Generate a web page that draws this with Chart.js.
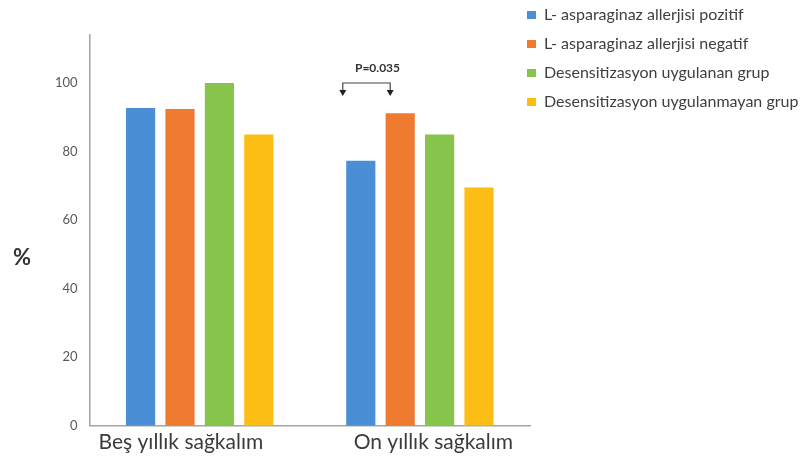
<!DOCTYPE html>
<html lang="tr">
<head>
<meta charset="utf-8">
<title>Sağkalım oranları</title>
<script src="https://cdn.jsdelivr.net/npm/chart.js@4/dist/chart.umd.min.js"></script>
<style>
  html, body { margin: 0; padding: 0; background: #ffffff; }
  #wrap { width: 805px; height: 460px; position: relative; }
</style>
</head>
<body>
<div id="wrap"><canvas id="chart" width="805" height="460"></canvas></div>
<script>
// Survival categories and the four patient groups (percent)
const categories = ['Beş yıllık sağkalım', 'On yıllık sağkalım'];
const seriesNames = [
  'L- asparaginaz allerjisi pozitif',
  'L- asparaginaz allerjisi negatif',
  'Desensitizasyon uygulanan grup',
  'Desensitizasyon uygulanmayan grup'
];
const allergyPositive = [92.7, 77.3];
const allergyNegative = [92.4, 91.2];
const desensitized = [100, 85];
const notDesensitized = [85, 69.5];
const yTicks = [0, 20, 40, 60, 80, 100];
const pValueLabel = 'P=0.035';

const seriesColors = ['#4a8fd5', '#ee7b30', '#86c44b', '#fcbd14'];
const seriesValues = [allergyPositive, allergyNegative, desensitized, notDesensitized];

const FONT = 'Lato, "Open Sans", "DejaVu Sans", sans-serif';

// Category captions are set a little off-centre: the first leans left, the second right
const captionLean = [{ lead: 0, trail: 7 }, { lead: 5, trail: 0 }];

// "%" caption beside the value axis, drawn upright
const percentCaption = {
  id: 'percentCaption',
  afterDraw(chart) {
    const { ctx, chartArea } = chart;
    ctx.save();
    ctx.font = 'bold 22px ' + FONT;
    ctx.fillStyle = '#333333';
    ctx.textAlign = 'center';
    ctx.textBaseline = 'middle';
    ctx.fillText('%', 22, chartArea.top + (chartArea.bottom - chartArea.top) * 0.57);
    ctx.restore();
  }
};

// Significance bracket between the ten-year positive and negative bars
const pBracket = {
  id: 'pBracket',
  afterDatasetsDraw(chart) {
    const { ctx } = chart;
    const y = chart.scales.y;
    const a = chart.getDatasetMeta(0).data[1];
    const b = chart.getDatasetMeta(1).data[1];
    if (!a || !b) return;
    const x1 = a.x - 18;
    const x2 = b.x - 10;
    const yl = y.getPixelForValue(100);
    const drop = 10;
    ctx.save();
    ctx.strokeStyle = '#444444';
    ctx.fillStyle = '#222222';
    ctx.lineWidth = 1.2;
    ctx.beginPath();
    ctx.moveTo(x1, yl + drop);
    ctx.lineTo(x1, yl);
    ctx.lineTo(x2, yl);
    ctx.lineTo(x2, yl + drop);
    ctx.stroke();
    [x1, x2].forEach(x => {
      ctx.beginPath();
      ctx.moveTo(x - 3.5, yl + drop - 3);
      ctx.lineTo(x + 3.5, yl + drop - 3);
      ctx.lineTo(x, yl + drop + 3);
      ctx.closePath();
      ctx.fill();
    });
    ctx.font = 'bold 12px ' + FONT;
    ctx.fillStyle = '#333333';
    ctx.textAlign = 'center';
    ctx.textBaseline = 'middle';
    ctx.fillText(pValueLabel, (x1 + x2) / 2 + 11, yl - 15);
    ctx.restore();
  }
};

// Legend sits slightly over the plot's right edge and near the top of the canvas
const legendPlacement = {
  id: 'legendPlacement',
  afterLayout(chart) {
    const lg = chart.legend;
    if (!lg) return;
    lg.left -= 16;
    lg.top -= 41;
  }
};

new Chart(document.getElementById('chart'), {
  type: 'bar',
  data: {
    labels: categories,
    datasets: seriesNames.map((name, i) => ({
      label: name,
      data: seriesValues[i],
      backgroundColor: seriesColors[i],
      borderWidth: 0,
      categoryPercentage: 0.716,
      barPercentage: 0.74
    }))
  },
  options: {
    responsive: false,
    animation: false,
    devicePixelRatio: 1,
    layout: { padding: { left: 43, top: 35, right: 0, bottom: 1 } },
    plugins: {
      tooltip: { enabled: false },
      legend: {
        position: 'right',
        align: 'start',
        maxWidth: 275,
        labels: {
          boxWidth: 9,
          boxHeight: 8,
          padding: 13,
          color: '#404040',
          font: { family: FONT, size: 16 }
        }
      }
    },
    scales: {
      x: {
        grid: { display: false, drawTicks: false },
        border: { color: '#a3a3a3', width: 1.5 },
        ticks: {
          padding: 4,
          maxRotation: 0,
          minRotation: 0,
          autoSkip: false,
          color: '#3b3b3b',
          font: { family: FONT, size: 21 },
          callback(value, index) {
            const lean = captionLean[index] || { lead: 0, trail: 0 };
            return ' '.repeat(lean.lead) + categories[index] + ' '.repeat(lean.trail);
          }
        }
      },
      y: {
        min: 0,
        max: 114,
        grid: { display: false, drawTicks: false },
        border: { color: '#a3a3a3', width: 1.5 },
        afterBuildTicks(scale) {
          scale.ticks = yTicks.map(v => ({ value: v }));
        },
        ticks: {
          padding: 12,
          color: '#595959',
          font: { family: FONT, size: 13 }
        }
      }
    }
  },
  plugins: [percentCaption, pBracket, legendPlacement]
});
</script>
</body>
</html>
